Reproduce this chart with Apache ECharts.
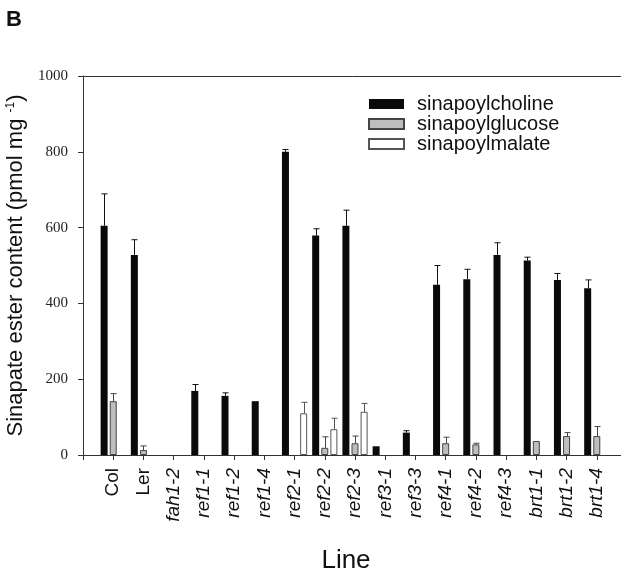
<!DOCTYPE html>
<html>
<head>
<meta charset="utf-8">
<script src="https://cdn.jsdelivr.net/npm/echarts@6/dist/echarts.min.js"></script>
<style>
  html, body { margin: 0; padding: 0; background: #fff; }
  #chart { width: 621px; height: 574px; }
</style>
</head>
<body>
<div id="chart"></div>
<script>
var lines = ['Col', 'Ler', 'fah1-2', 'ref1-1', 'ref1-2', 'ref1-4', 'ref2-1', 'ref2-2', 'ref2-3',
             'ref3-1', 'ref3-3', 'ref4-1', 'ref4-2', 'ref4-3', 'brt1-1', 'brt1-2', 'brt1-4'];
var choline    = [605, 528, 0, 169, 156, 142, 800, 579, 605, 23, 59, 449, 464, 528, 513, 462, 440];
var cholineErr = [84, 40, 0, 17, 8, 0, 6, 18, 41, 0, 5, 51, 26, 32, 9, 17, 22];
var glucose    = [142, 13, 0, 0, 0, 0, 0, 19, 31, 0, 0, 31, 28, 0, 37, 50, 50];
var glucoseErr = [20, 11, 0, 0, 0, 0, 0, 29, 19, 0, 0, 16, 3, 0, 0, 9, 25];
var malate     = [0, 0, 0, 0, 0, 0, 110, 68, 114, 0, 0, 0, 0, 0, 0, 0, 0];
var malateErr  = [0, 0, 0, 0, 0, 0, 29, 29, 22, 0, 0, 0, 0, 0, 0, 0, 0];
var yTicks = [0, 200, 400, 600, 800, 1000];

var upright = { 'Col': true, 'Ler': true };
var BAR_W = 7, BAR_GAP = 0.3;

// empty slot on each side so the groups sit on ticks away from the y axis
var cats = [''].concat(lines, ['']);
// zero values are left out so no flat outline shows on the axis
function pad(arr) {
  return ['-'].concat(arr.map(function (v) { return v > 0 ? v : '-'; }), ['-']);
}

function errData(vals, errs) {
  var out = [];
  for (var i = 0; i < vals.length; i++) {
    if (errs[i] > 0) out.push([i + 1, vals[i], errs[i]]);
  }
  return out;
}

function errRender(slot, color) {
  return function (params, api) {
    var base = api.coord([api.value(0), api.value(1)]);
    var top = api.coord([api.value(0), api.value(1) + api.value(2)]);
    var step = BAR_W * (1 + BAR_GAP);
    var x = Math.round(base[0] + slot * step) + 0.5;
    var cap = 3;
    var st = { stroke: color, lineWidth: 1 };
    return {
      type: 'group',
      children: [
        { type: 'line', shape: { x1: x, y1: base[1], x2: x, y2: top[1] }, style: st },
        { type: 'line', shape: { x1: x - cap, y1: top[1], x2: x + cap, y2: top[1] }, style: st }
      ]
    };
  };
}

var myChart = echarts.init(document.getElementById('chart'));

var option = {
  animation: false,
  backgroundColor: '#fff',
  textStyle: { fontFamily: 'Liberation Sans' },
  title: [
    { text: 'B', left: 6, top: 9, padding: 0,
      textStyle: { fontSize: 22, fontWeight: 'bold', color: '#111', fontFamily: 'Liberation Sans' } },
    { text: 'Line', left: 346, top: 548, padding: 0, textAlign: 'center',
      textStyle: { fontSize: 26, fontWeight: 'normal', color: '#111', fontFamily: 'Liberation Sans' } }
  ],
  legend: {
    orient: 'vertical',
    left: 363,
    top: 89,
    icon: 'rect',
    itemWidth: 35,
    itemHeight: 10,
    itemGap: 0,
    data: ['sinapoylcholine', 'sinapoylglucose', 'sinapoylmalate'],
    textStyle: { fontSize: 20, lineHeight: 19, color: '#111', padding: [0, 0, 0, 8], fontFamily: 'Liberation Sans' }
  },
  grid: {
    left: 83, top: 76, width: 544, height: 379,
    outerBoundsMode: 'none',
    containLabel: false
  },
  xAxis: [
    {
      type: 'category',
      data: cats,
      boundaryGap: false,
      axisLine: { lineStyle: { color: '#333', width: 1 } },
      axisTick: { length: 5, lineStyle: { color: '#333' } },
      axisLabel: {
        rotate: 90,
        margin: 13,
        fontSize: 19,
        color: '#111',
        formatter: function (v) {
          if (!v) return '';
          return upright[v] ? v : '{i|' + v + '}';
        },
        rich: { i: { fontStyle: 'italic', fontSize: 19, color: '#111' } }
      },
      splitLine: { show: false }
    },
    {
      // top frame line only
      type: 'category',
      position: 'top',
      data: cats,
      boundaryGap: false,
      axisLine: { show: true, lineStyle: { color: '#333', width: 1 } },
      axisTick: { show: false },
      axisLabel: { show: false },
      splitLine: { show: false }
    }
  ],
  yAxis: {
    type: 'value',
    min: yTicks[0],
    max: yTicks[yTicks.length - 1],
    interval: 200,
    name: '{a|Sinapate ester content (pmol mg }{s|-1}{a|)}',
    nameLocation: 'middle',
    nameGap: 53,
    nameTextStyle: {
      rich: {
        a: { fontSize: 22, color: '#111', fontFamily: 'Liberation Sans' },
        s: { fontSize: 12, color: '#111', fontFamily: 'Liberation Sans', padding: [0, 0, 11, 0] }
      }
    },
    axisLine: { show: true, lineStyle: { color: '#333' } },
    axisTick: { show: true, length: 5, lineStyle: { color: '#333' } },
    axisLabel: {
      margin: 15, fontSize: 15, color: '#222', fontFamily: 'Liberation Serif',
      formatter: function (v) { return String(v); }
    },
    splitLine: { show: false }
  },
  series: [
    {
      name: 'sinapoylcholine', type: 'bar', data: pad(choline),
      barWidth: BAR_W, barGap: (BAR_GAP * 100) + '%',
      itemStyle: { color: '#0a0a0a' }
    },
    {
      name: 'sinapoylglucose', type: 'bar', data: pad(glucose),
      barWidth: BAR_W, barGap: (BAR_GAP * 100) + '%',
      itemStyle: { color: '#bdbdbd', borderColor: '#444', borderWidth: 1 }
    },
    {
      name: 'sinapoylmalate', type: 'bar', data: pad(malate),
      barWidth: BAR_W, barGap: (BAR_GAP * 100) + '%',
      itemStyle: { color: '#ffffff', borderColor: '#555', borderWidth: 1 }
    },
    { type: 'custom', renderItem: errRender(-1, '#111'), data: errData(choline, cholineErr), z: 3 },
    { type: 'custom', renderItem: errRender(0, '#444'), data: errData(glucose, glucoseErr), z: 3 },
    { type: 'custom', renderItem: errRender(1, '#555'), data: errData(malate, malateErr), z: 3 }
  ]
};

myChart.setOption(option);
window.addEventListener('resize', function () {
  myChart.resize();
});
</script>
</body>
</html>
